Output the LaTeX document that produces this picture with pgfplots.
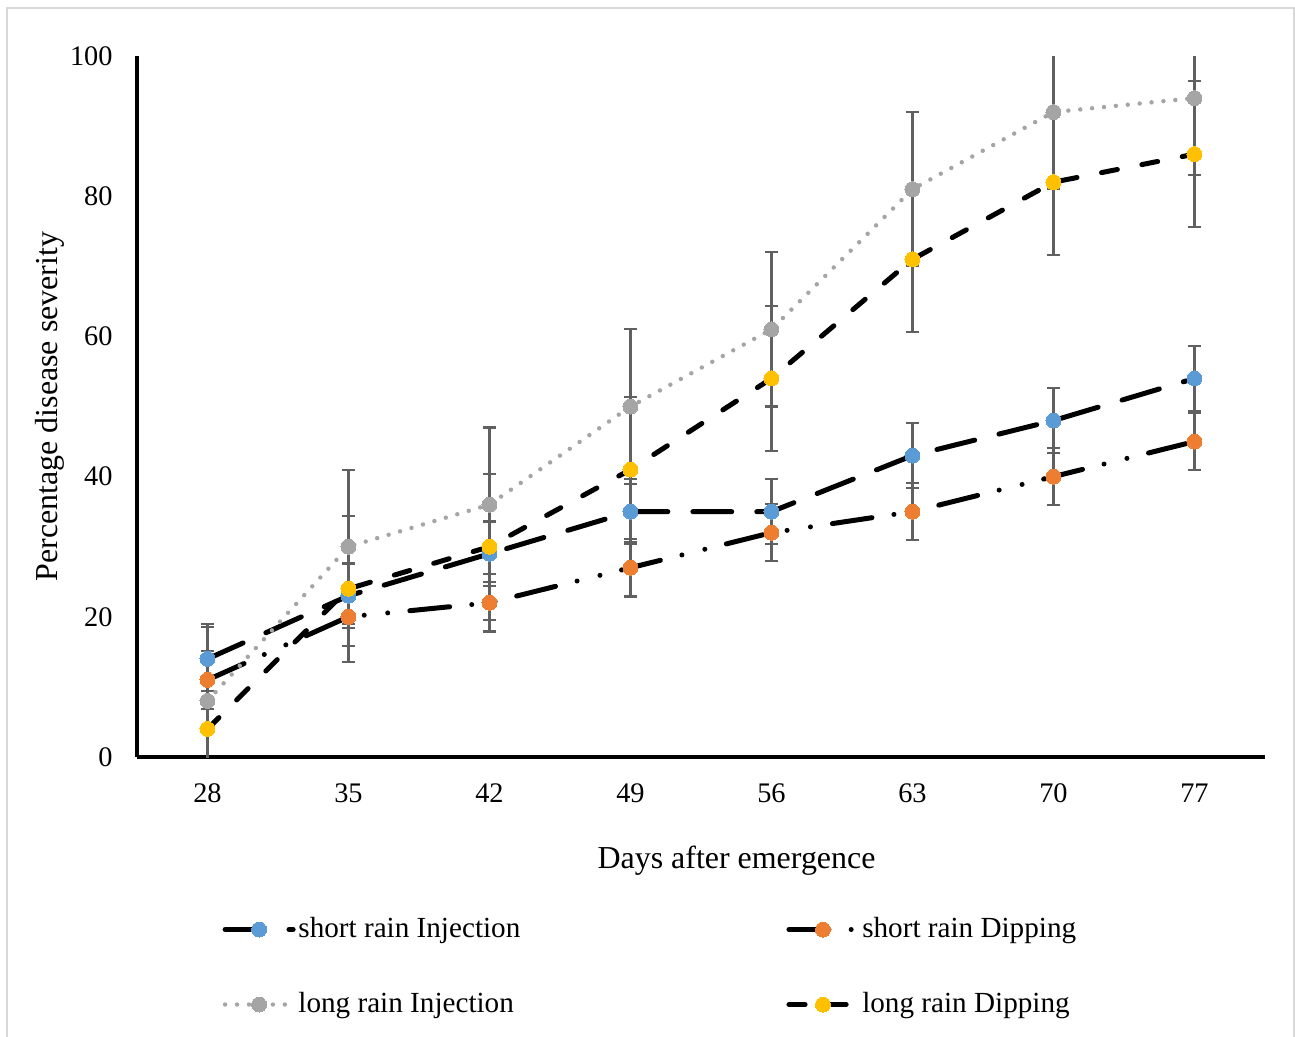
\documentclass[border=0pt]{standalone}
\usepackage{fontspec}
\setmainfont{Liberation Serif}
\usepackage{pgfplots}
\pgfplotsset{compat=1.18}
\definecolor{srInj}{HTML}{5B9BD5}
\definecolor{srDip}{HTML}{ED7D31}
\definecolor{lrInj}{HTML}{A5A5A5}
\definecolor{lrDip}{HTML}{FFC000}
\definecolor{errGray}{HTML}{606060}
\definecolor{frameGray}{HTML}{D9D9D9}

\pgfplotsset{
  errbar/.style={forget plot, only marks, mark=*, mark size=0pt,
    mark options={draw=none, fill=none},
    error bars/.cd, y dir=both, y fixed=#1, error mark=-,
    error bar style={errGray, line width=0.75pt, solid},
    error mark options={errGray, line width=0.75pt, mark size=2.3pt, solid, rotate=90}},
}

\begin{document}
\begin{tikzpicture}
\useasboundingbox (0,0) rectangle (466.2pt,372.96pt);
\draw[frameGray, line width=0.7pt] (2.52pt,-5pt) rectangle (465.84pt,370.08pt);
\begin{axis}[
    at={(49.32pt,100.44pt)}, anchor=south west,
    scale only axis, width=406.08pt, height=252.36pt,
    xmin=24.5, xmax=80.5, ymin=0, ymax=100,
    axis x line*=bottom, axis y line*=left,
    axis line style={black, line width=1.1pt},
    xtick={28,35,42,49,56,63,70,77},
    ytick={0,20,40,60,80,100},
    major tick length=0pt,
    /pgf/number format/assume math mode=true,
    ticklabel style={font=\fontsize{10.2}{12}\selectfont},
    xticklabel style={anchor=center, inner sep=0pt, yshift=-12.9pt},
    yticklabel style={anchor=east, inner sep=0pt, xshift=-8.6pt},
    xlabel={Days after emergence},
    ylabel={Percentage disease severity},
    label style={font=\fontsize{11.5}{13}\selectfont},
    xlabel style={at={(rel axis cs:0.5315,-0.1484)}, anchor=center},
    ylabel style={at={(rel axis cs:-0.077,0.5)}, anchor=center},
    legend columns=2,
    legend style={draw=none, fill=none, inner sep=0pt,
      at={(rel axis cs:0.0754,-0.2245)}, anchor=north west,
      font=\fontsize{10.5}{12}\selectfont,
      nodes={inner sep=0pt, text height=8pt, text depth=2.5pt},
      row sep=16.5pt,
      /tikz/every odd column/.append style={column sep=1pt},
      /tikz/every even column/.append style={column sep=95.8pt}},
    legend cell align=left,
    legend image code/.code={
      \draw[mark repeat=2, mark phase=2, #1]
        plot coordinates {(0pt,0pt) (12.25pt,0pt) (24.5pt,0pt)};},
    every axis plot/.append style={line join=round},
  ]

  % error bars
  \addplot[errbar=4.6] coordinates {(28,14) (35,23) (42,29) (49,35) (56,35) (63,43) (70,48) (77,54)};
  \addplot[errbar=4.1] coordinates {(28,11) (35,20) (42,22) (49,27) (56,32) (63,35) (70,40) (77,45)};
  \addplot[errbar=11] coordinates {(28,8) (35,30) (42,36) (49,50) (56,61) (63,81) (70,92) (77,94)};
  \addplot[errbar=10.4] coordinates {(28,4) (35,24) (42,30) (49,41) (56,54) (63,71) (70,82) (77,86)};

  % series
  \addplot[black, line width=1.8pt, line cap=round, dash pattern=on 14pt off 9pt,
    mark=*, mark size=2.7pt, mark options={solid, draw=srInj, fill=srInj, line width=0pt}]
    coordinates {(28,14) (35,23) (42,29) (49,35) (56,35) (63,43) (70,48) (77,54)};
  \addlegendentry{short rain Injection}

  \addplot[black, line width=1.8pt, line cap=round,
    dash pattern=on 14.4pt off 8pt on 0pt off 8.5pt on 0pt off 8pt,
    mark=*, mark size=2.7pt, mark options={solid, draw=srDip, fill=srDip, line width=0pt}]
    coordinates {(28,11) (35,20) (42,22) (49,27) (56,32) (63,35) (70,40) (77,45)};
  \addlegendentry{short rain Dipping}

  \addplot[lrInj, line width=1.6pt, line cap=round, dash pattern=on 0pt off 4.3pt,
    mark=*, mark size=2.7pt, mark options={solid, draw=lrInj, fill=lrInj, line width=0pt}]
    coordinates {(28,8) (35,30) (42,36) (49,50) (56,61) (63,81) (70,92) (77,94)};
  \addlegendentry{long rain Injection}

  \addplot[black, line width=1.8pt, line cap=round, dash pattern=on 5.8pt off 9pt,
    mark=*, mark size=2.7pt, mark options={solid, draw=lrDip, fill=lrDip, line width=0pt}]
    coordinates {(28,4) (35,24) (42,30) (49,41) (56,54) (63,71) (70,82) (77,86)};
  \addlegendentry{long rain Dipping}

\end{axis}
\end{tikzpicture}
\end{document}
